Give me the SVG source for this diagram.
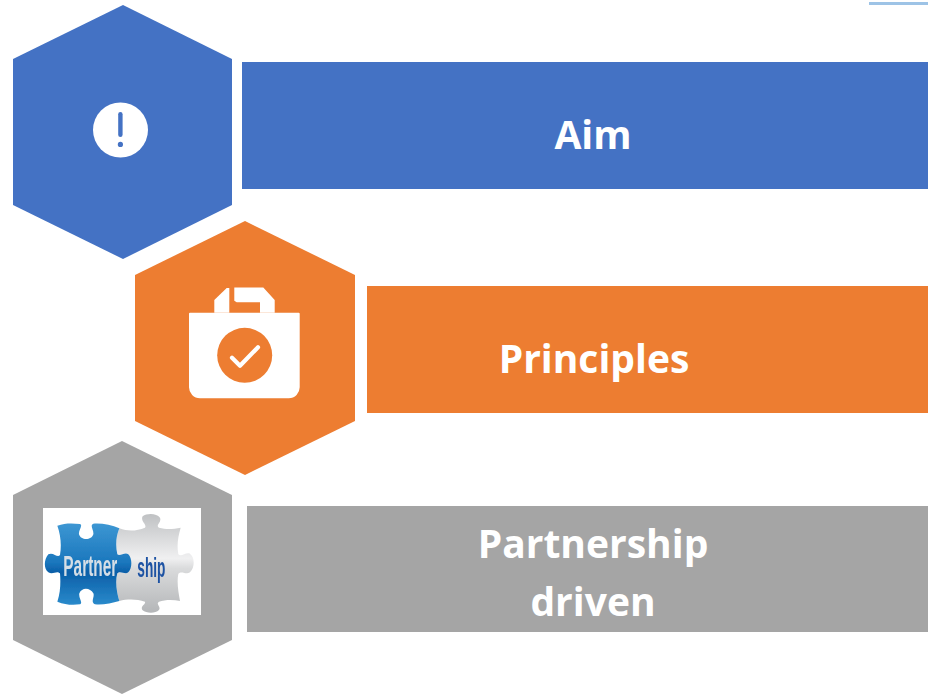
<svg xmlns="http://www.w3.org/2000/svg" width="928" height="694" viewBox="0 0 928 694">
<style>
.lbl{font-family:"Open Sans","Noto Sans","Liberation Sans",sans-serif;font-weight:700;font-size:39px;fill:#fff;text-anchor:middle}
.blue{fill:#4472C4}.orange{fill:#ED7D31}.grey{fill:#A5A5A5}.white{fill:#fff}
.pz{font-family:"Liberation Sans",Arial,sans-serif;font-weight:700}
</style>
<defs>
<linearGradient id="pb" x1="0" y1="0" x2="0" y2="1"><stop offset="0" stop-color="#3D97D3"/><stop offset=".48" stop-color="#1B77BD"/><stop offset=".6" stop-color="#0B5FA8"/><stop offset="1" stop-color="#2A8ACB"/></linearGradient>
<linearGradient id="pg" x1="0" y1="0" x2="0" y2="1"><stop offset="0" stop-color="#BFC1C3"/><stop offset=".45" stop-color="#F0F0F1"/><stop offset=".55" stop-color="#DADBDC"/><stop offset="1" stop-color="#B4B6B8"/></linearGradient>
<filter id="soft" x="-5%" y="-5%" width="110%" height="110%"><feGaussianBlur stdDeviation=".35"/></filter>
</defs>
<rect class="white" width="928" height="694"/>
<rect x="869" y="2" width="59" height="3" fill="#9DC3E6"/>
<g id="aim">
<polygon class="blue" points="123,5 232,59 232,205 123,259 13,205 13,59"/>
<rect class="blue" x="242" y="62" width="686" height="127"/>
<circle class="white" cx="120.5" cy="130" r="27.5"/>
<rect class="blue" x="118.2" y="112" width="4.4" height="25" rx="2.2"/>
<circle class="blue" cx="120.4" cy="144.4" r="2.6"/>
<text class="lbl" x="593" y="149">Aim</text>
</g>
<g id="principles">
<polygon class="orange" points="245,221 355,275 355,421 245,475 135,421 135,275"/>
<rect class="orange" x="367" y="286" width="561" height="127"/>
<path class="white" d="M190,312.7H298.7a1,1 0 0 1 1,1V387a11,11 0 0 1-11,11.3H200a11,11 0 0 1-11-11.3V313.7a1,1 0 0 1 1-1Z"/>
<path class="white" d="M214.3,312.7V300L226.7,288H229.3V312.7Z"/>
<path class="white" d="M234.3,287.5H263.3L274.7,300V312.7H260V302.3H236.7L234.3,300.7Z"/>
<circle class="orange" cx="244.7" cy="355.3" r="27.5"/>
<polyline points="232,357.7 240,365.7 258,347.3" fill="none" stroke="#fff" stroke-width="4.2" stroke-linecap="round" stroke-linejoin="round"/>
<text class="lbl" x="594" y="373">Principles</text>
</g>
<g id="partnership">
<polygon class="grey" points="122,441 232,495 232,640 122,694 13,640 13,495"/>
<rect class="grey" x="247" y="506" width="681" height="126"/>
<rect class="white" x="43" y="508" width="158" height="107"/>
<g transform="translate(30 495) scale(.33333)" filter="url(#soft)">
<path fill="url(#pg)" d="M268,100C295,110 320,108 345,98C352,88 330,78 338,64C350,54 380,54 390,68C396,82 375,90 387,98C410,104 430,102 452,98C444,125 440,150 445,178C455,186 465,172 478,175C494,185 496,215 480,232C468,240 455,226 445,236C440,262 445,290 450,318C430,314 405,314 387,320C376,328 394,334 387,345C376,356 350,356 337,345C330,334 348,328 345,320C320,312 292,312 268,318C260,290 255,260 262,235C270,225 285,240 295,232C305,220 305,190 295,178C285,170 270,185 262,178C256,150 258,125 268,100Z"/>
<path fill="url(#pb)" d="M82,92C105,84 125,84 150,87C160,92 145,105 147,118C152,137 185,137 190,118C192,105 178,92 190,86C215,84 245,90 268,100C258,125 256,150 262,178C270,185 285,170 295,178C307,190 307,220 295,232C285,240 270,225 262,235C255,260 260,290 268,318C245,325 215,331 195,328C180,322 195,305 190,295C180,277 155,277 148,295C145,310 160,322 150,328C125,331 105,329 82,320C92,290 92,260 90,235C80,225 70,240 55,232C41,220 41,195 55,178C70,170 82,190 90,180C95,150 92,120 82,92Z"/>
<text class="pz" transform="translate(100 243) scale(.525 1)" font-size="88" fill="#D5DEE6">Partner</text>
<text class="pz" transform="translate(322 245) scale(.5 1)" font-size="82" fill="#1F52A3">ship</text>
</g>
<text class="lbl" x="593" y="558">Partnership</text>
<text class="lbl" x="593" y="616">driven</text>
</g>
</svg>
